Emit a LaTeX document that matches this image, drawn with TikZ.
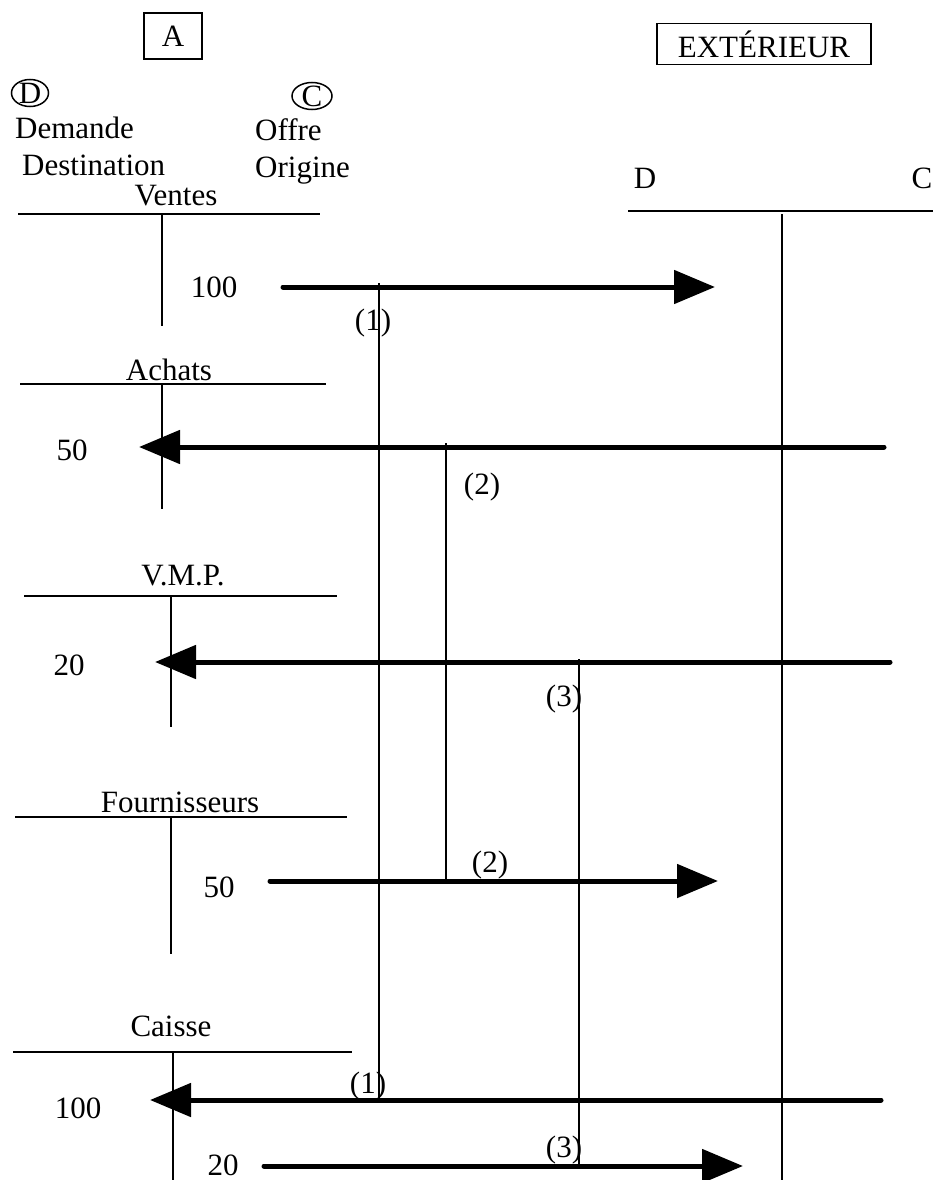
\documentclass[tikz,border=0pt]{standalone}
\usepackage{fontspec}
\setmainfont{Liberation Serif}
\usetikzlibrary{arrows.meta}

\tikzset{
  txt/.style={inner sep=0pt, font=\fontsize{31}{36}\selectfont},
  boite/.style={txt, draw, line width=1.5pt},
  compte/.style={line width=2pt},
  flux/.style={line width=5pt, line cap=round, -{Triangle[length=41pt,width=33pt]}},
  lien/.style={line width=1.5pt}
}

\begin{document}
\begin{tikzpicture}[x=1pt,y=-1pt]
\useasboundingbox (0,0) rectangle (940,1180);

\node[boite, minimum width=58pt, minimum height=46pt] (A) at (173,36) {A};
\node[boite, minimum width=214pt, minimum height=41pt] (Ext) at (764,44) {EXTÉRIEUR};

\node[txt] (cD) at (30,93) {D};
\node[txt] (cC) at (312,96) {C};
\draw[line width=1.5pt] (cD.center) ellipse [x radius=18.5, y radius=13.5];
\draw[line width=1.5pt] (cC.center) ellipse [x radius=20, y radius=13.5];
\node[txt, anchor=base west] (Dem) at (15,139) {Demande};
\node[txt, anchor=base west] (Dest) at (22,175) {Destination};
\node[txt, anchor=base west] (Off) at (255,140) {Offre};
\node[txt, anchor=base west] (Ori) at (255,177) {Origine};

\node[txt, anchor=base] (Ve) at (176,205) {Ventes};
\node[txt, anchor=base] (Ac) at (169,380) {Achats};
\node[txt, anchor=base] (Vmp) at (183,585) {V.M.P.};
\node[txt, anchor=base] (Fo) at (180,812) {Fournisseurs};
\node[txt, anchor=base] (Ca) at (171,1036) {Caisse};
\node[txt, anchor=base] (ExD) at (645,188) {D};
\node[txt, anchor=base] (ExC) at (922,188) {C};

\draw[compte] (18,214) -- (320,214) (162,214) -- (162,326);
\draw[compte] (20,384) -- (326,384) (162,384) -- (162,509);
\draw[compte] (24,596) -- (337,596) (171,596) -- (171,727);
\draw[compte] (15,817) -- (347,817) (171,817) -- (171,954);
\draw[compte] (13,1052) -- (352,1052) (173,1052) -- (173,1180);
\draw[compte] (628,211) -- (933,211) (782,214) -- (782,1180);

\coordinate (L1a) at (379,283);
\coordinate (L1b) at (379,1100);
\coordinate (L2a) at (446,443);
\coordinate (L2b) at (446,880);
\coordinate (L3a) at (579,659);
\coordinate (L3b) at (579,1166);
\draw[lien] (L1a) -- (L1b);
\draw[lien] (L2a) -- (L2b);
\draw[lien] (L3a) -- (L3b);

\coordinate (F1a) at (283,287);
\coordinate (F1b) at (715,287);
\coordinate (F2a) at (884,447);
\coordinate (F2b) at (139,447);
\coordinate (F3a) at (890,662);
\coordinate (F3b) at (155,662);
\coordinate (F4a) at (270,881);
\coordinate (F4b) at (718,881);
\coordinate (F5a) at (881,1100);
\coordinate (F5b) at (150,1100);
\coordinate (F6a) at (264,1166);
\coordinate (F6b) at (743,1166);
\draw[flux] (F1a) -- (F1b);
\draw[flux] (F2a) -- (F2b);
\draw[flux] (F3a) -- (F3b);
\draw[flux] (F4a) -- (F4b);
\draw[flux] (F5a) -- (F5b);
\draw[flux] (F6a) -- (F6b);

\node[txt] (M1) at (214,287) {100};
\node[txt] (M2) at (72,450) {50};
\node[txt] (M3) at (69,665) {20};
\node[txt] (M4) at (219,887) {50};
\node[txt] (M5) at (78,1108) {100};
\node[txt] (M6) at (223,1165) {20};

\node[txt] (N1a) at (373,323) {(1)};
\node[txt] (N2a) at (482,487) {(2)};
\node[txt] (N3a) at (564,699) {(3)};
\node[txt] (N2b) at (490,865) {(2)};
\node[txt] (N1b) at (368,1086) {(1)};
\node[txt] (N3b) at (564,1150) {(3)};
\end{tikzpicture}
\end{document}
